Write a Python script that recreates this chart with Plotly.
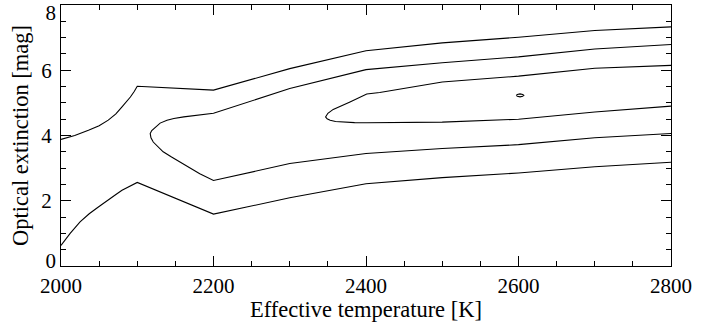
import plotly.graph_objects as go

# Outer contour, upper branch (Teff [K], Av [mag])
c1_upper_T = [2000, 2018, 2036, 2050, 2062, 2072, 2080, 2086, 2091, 2096, 2100,
              2200, 2300, 2400, 2500, 2600, 2700, 2800]
c1_upper_A = [3.88, 4.00, 4.16, 4.30, 4.47, 4.66, 4.88, 5.03, 5.18, 5.35, 5.51,
              5.39, 6.05, 6.60, 6.84, 7.01, 7.22, 7.33]

# Outer contour, lower branch
c1_lower_T = [2000, 2012, 2025, 2037, 2049, 2062, 2072, 2080, 2090, 2100,
              2200, 2300, 2400, 2500, 2600, 2700, 2800]
c1_lower_A = [0.63, 1.00, 1.35, 1.60, 1.81, 2.04, 2.19, 2.32, 2.45, 2.56,
              1.59, 2.09, 2.52, 2.71, 2.85, 3.04, 3.18]

# Middle contour (closed on the left, open to the right)
c2_T = [2800, 2700, 2600, 2500, 2400, 2300, 2200, 2180, 2161, 2148, 2139, 2130, 2124, 2119,
        2117, 2118, 2121, 2127, 2134, 2145, 2156, 2169, 2182,
        2200, 2300, 2400, 2500, 2600, 2700, 2800]
c2_A = [6.79, 6.65, 6.41, 6.23, 6.02, 5.44, 4.68, 4.63, 4.57, 4.52, 4.47, 4.38, 4.26, 4.15,
        4.06, 3.93, 3.80, 3.65, 3.50, 3.34, 3.19, 3.01, 2.83,
        2.62, 3.14, 3.45, 3.60, 3.72, 3.93, 4.06]

# Inner contour
c3_T = [2800, 2700, 2600, 2500, 2418, 2401, 2379, 2357, 2350, 2347, 2349, 2353, 2360, 2370,
        2385, 2401, 2500, 2600, 2700, 2800]
c3_A = [6.15, 6.06, 5.82, 5.64, 5.32, 5.27, 5.03, 4.80, 4.68, 4.57, 4.51, 4.47, 4.43, 4.41,
        4.395, 4.39, 4.41, 4.50, 4.72, 4.90]

# Tiny innermost contour near the minimum
c4_T = [2597, 2598.5, 2602, 2605.5, 2607, 2605.5, 2602, 2598.5, 2597]
c4_A = [5.23, 5.26, 5.275, 5.26, 5.23, 5.20, 5.185, 5.20, 5.23]

x_ticks = [2000, 2200, 2400, 2600, 2800]
y_ticks_all = [0, 2, 4, 6, 8]
y_tick_bottom = [0]
y_tick_top = [8]
y_range = [0, 8]

fig = go.Figure()
for xs, ys in [(c1_upper_T, c1_upper_A), (c1_lower_T, c1_lower_A), (c2_T, c2_A),
               (c3_T, c3_A), (c4_T, c4_A)]:
    fig.add_trace(go.Scatter(x=xs, y=ys, mode="lines",
                             line=dict(color="black", width=1.1),
                             showlegend=False, hoverinfo="skip"))
# empty helper traces so the overlaying label axes are rendered
for ax in ["y2", "y3"]:
    fig.add_trace(go.Scatter(x=[None], y=[None], yaxis=ax, mode="lines",
                             showlegend=False, hoverinfo="skip"))

font = dict(family="Liberation Serif", size=21, color="black")
title_font = dict(family="Liberation Serif", size=22.5, color="black")
axis_common = dict(
    showgrid=False, zeroline=False, showline=True, linecolor="black", linewidth=1,
    mirror="ticks", ticks="inside", ticklen=10, tickwidth=1, tickcolor="black",
    tickfont=font,
)
label_axis = dict(
    range=y_range, overlaying="y", anchor="x", side="left", showgrid=False,
    zeroline=False, showline=False, ticks="", tickfont=font, ticklabelstandoff=4,
    fixedrange=True,
)
fig.update_layout(
    width=714, height=322,
    margin=dict(l=61, r=43, t=5, b=56, autoexpand=False),
    paper_bgcolor="white", plot_bgcolor="white",
    font=font,
    xaxis=dict(range=[2000, 2800], tickvals=x_ticks,
               minor=dict(dtick=50, tick0=2000, ticks="inside", ticklen=5, tickcolor="black", showgrid=False),
               title=dict(text="Effective temperature [K]", font=title_font, standoff=0),
               ticklabelstandoff=1, **axis_common),
    yaxis=dict(range=y_range, tickvals=y_ticks_all, ticktext=["", "2", "4", "6", ""],
               minor=dict(dtick=0.5, tick0=0, ticks="inside", ticklen=5, tickcolor="black", showgrid=False),
               title=dict(text="Optical extinction [mag]", font=title_font, standoff=6),
               ticklabelstandoff=4, **axis_common),
    yaxis2=dict(tickvals=y_tick_bottom, ticklabelposition="outside top", ticklabelshift=9, **label_axis),
    yaxis3=dict(tickvals=y_tick_top, ticklabelposition="outside bottom", ticklabelshift=-7, **label_axis),
)
fig.write_html("out.html")
